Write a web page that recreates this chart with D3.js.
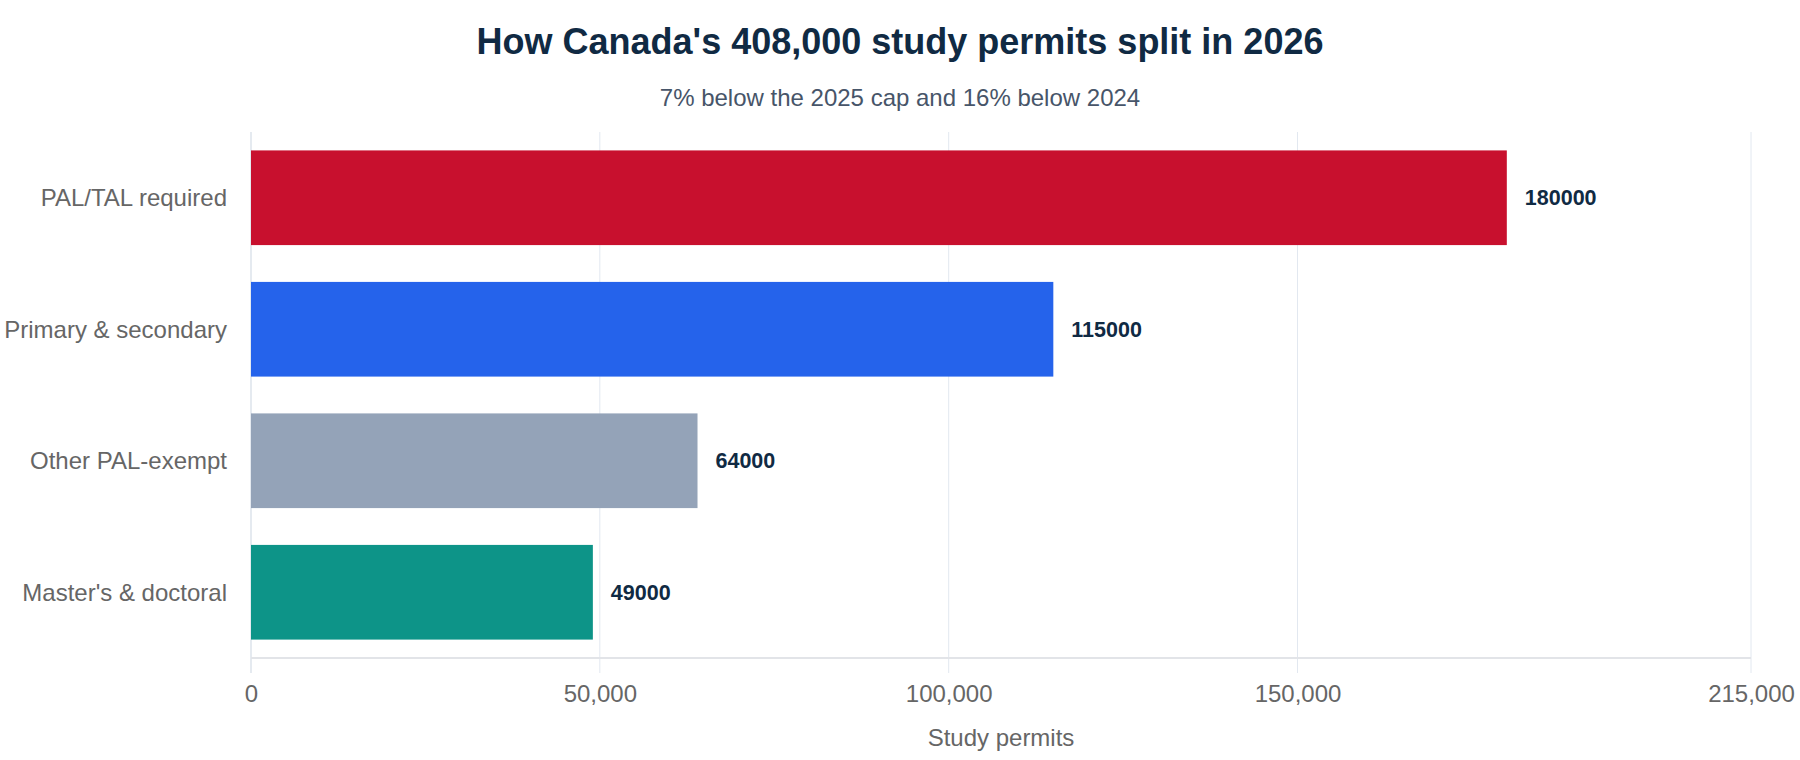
<!DOCTYPE html>
<html>
<head>
    <meta charset="utf-8">
    <title>Study permits 2026</title>
    <script src="https://cdnjs.cloudflare.com/ajax/libs/d3/7.8.5/d3.min.js"></script>
    <style>
        body { margin: 0; background: #fff; font-family: "Liberation Sans", Arial, sans-serif; }
        .grid-line { stroke: #e2e8f0; stroke-width: 1; }
        .axis-x .domain { display: none; }
        .axis-x text { fill: #666; font-size: 24px; font-family: "Liberation Sans", Arial, sans-serif; }
    </style>
</head>
<body>
<script type="text/javascript">
    var categories = ["PAL/TAL required", "Primary & secondary", "Other PAL-exempt", "Master's & doctoral"];
    var permits = [180000, 115000, 64000, 49000];
    var barColors = ["#c8102e", "#2563eb", "#94a3b8", "#0d9488"];
    var tickValues = [0, 50000, 100000, 150000, 215000];

    var width = 1800, height = 760;
    var margin = {top: 132, right: 49, bottom: 102, left: 251};
    var plotBottom = height - margin.bottom;

    var svg = d3.select("body").append("svg")
        .attr("width", width)
        .attr("height", height);

    var rows = categories.map(function (c, i) {
        return {name: c, value: permits[i], color: barColors[i]};
    });

    var xScale = d3.scaleLinear()
        .domain([0, 215000])
        .range([margin.left, width - margin.right]);

    var yScale = d3.scaleBand()
        .domain(categories)
        .range([margin.top, plotBottom])
        .paddingInner(0.28)
        .paddingOuter(0.14);

    // title + subtitle
    svg.append("text")
        .attr("x", width / 2).attr("y", 54)
        .attr("text-anchor", "middle")
        .style("font-size", "36px").style("font-weight", "bold")
        .style("fill", "#102a43")
        .text("How Canada's 408,000 study permits split in 2026");

    svg.append("text")
        .attr("x", width / 2).attr("y", 106)
        .attr("text-anchor", "middle")
        .style("font-size", "24px")
        .style("fill", "#475569")
        .text("7% below the 2025 cap and 16% below 2024");

    // vertical grid lines (run a bit past the axis as ticks)
    svg.selectAll("line.grid-line")
        .data(tickValues)
        .enter().append("line")
            .attr("class", "grid-line")
            .attr("x1", function (d) { return xScale(d); })
            .attr("x2", function (d) { return xScale(d); })
            .attr("y1", margin.top)
            .attr("y2", plotBottom + 15)
            .style("stroke", function (d) { return d === 0 ? "#cbd5e1" : "#e2e8f0"; });

    // bottom axis line
    svg.append("line")
        .attr("x1", xScale(0)).attr("x2", xScale(215000))
        .attr("y1", plotBottom).attr("y2", plotBottom)
        .style("stroke", "#e2e4e8").style("stroke-width", 2);

    var xAxis = d3.axisBottom(xScale)
        .tickValues(tickValues)
        .tickSize(0)
        .tickPadding(27)
        .tickFormat(d3.format(","));

    svg.append("g")
        .attr("class", "axis-x")
        .attr("transform", "translate(0," + plotBottom + ")")
        .call(xAxis);

    svg.append("text")
        .attr("x", (xScale(0) + xScale(215000)) / 2).attr("y", 746)
        .attr("text-anchor", "middle")
        .style("font-size", "24px").style("fill", "#666")
        .text("Study permits");

    // bars
    svg.selectAll("rect.bar")
        .data(rows)
        .enter().append("rect")
            .attr("class", "bar")
            .attr("x", xScale(0))
            .attr("y", function (d) { return yScale(d.name); })
            .attr("width", function (d) { return xScale(d.value) - xScale(0); })
            .attr("height", yScale.bandwidth())
            .style("fill", function (d) { return d.color; });

    // value labels
    svg.selectAll("text.value")
        .data(rows)
        .enter().append("text")
            .attr("class", "value")
            .attr("x", function (d) { return xScale(d.value) + 18; })
            .attr("y", function (d) { return yScale(d.name) + yScale.bandwidth() / 2; })
            .attr("dy", "0.35em")
            .style("font-size", "21.5px").style("font-weight", "bold")
            .style("fill", "#102a43")
            .text(function (d) { return d.value; });

    // category labels
    svg.selectAll("text.cat")
        .data(rows)
        .enter().append("text")
            .attr("class", "cat")
            .attr("x", xScale(0) - 24)
            .attr("y", function (d) { return yScale(d.name) + yScale.bandwidth() / 2; })
            .attr("dy", "0.35em")
            .attr("text-anchor", "end")
            .style("font-size", "24px").style("fill", "#666")
            .text(function (d) { return d.name; });
</script>
</body>
</html>
